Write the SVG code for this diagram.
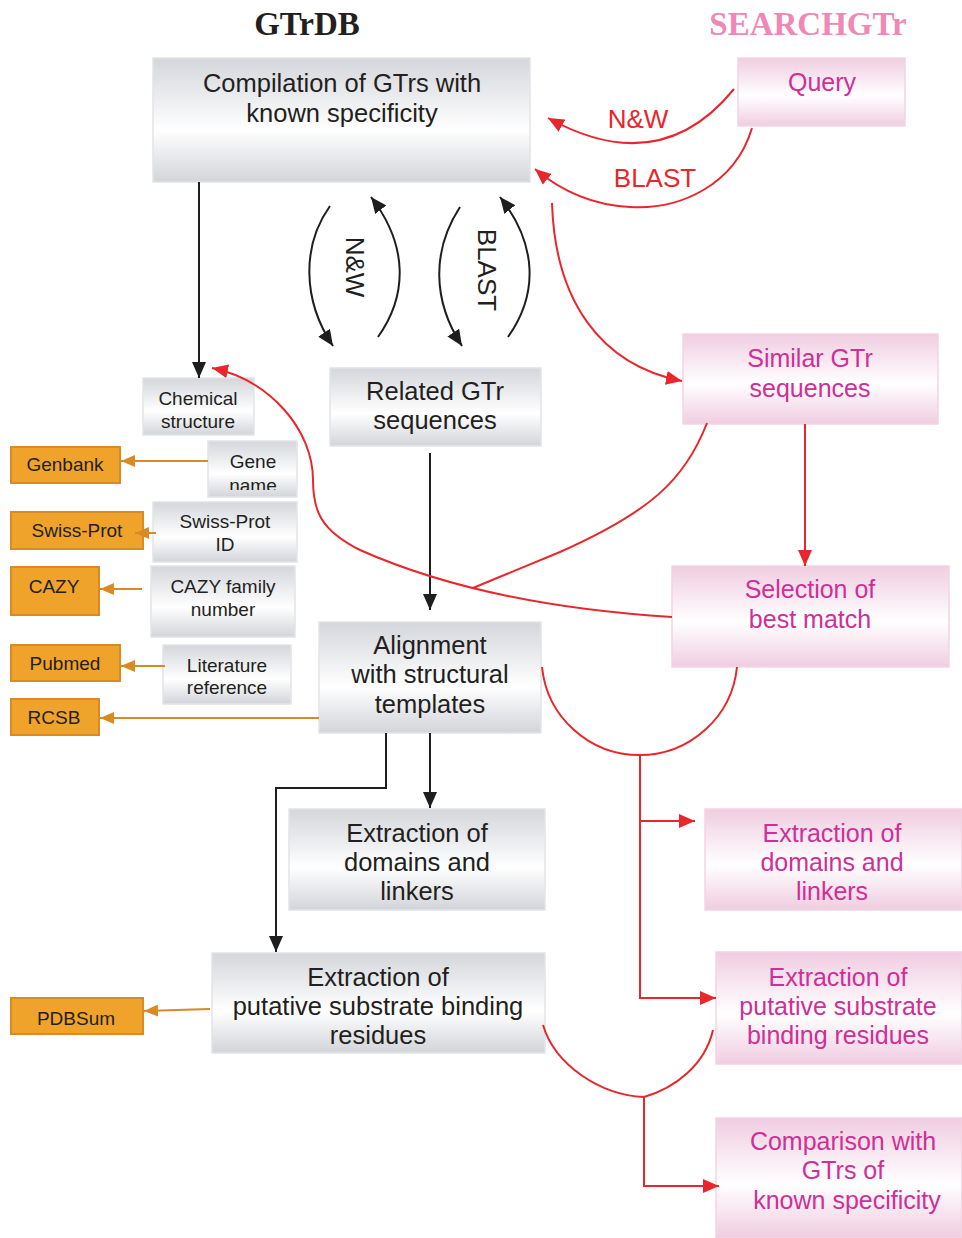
<svg xmlns="http://www.w3.org/2000/svg" width="962" height="1238" viewBox="0 0 962 1238">
<defs>
<linearGradient id="gGray" x1="0" y1="0" x2="0" y2="1">
<stop offset="0" stop-color="#d4d6db"/>
<stop offset="0.58" stop-color="#ffffff"/>
<stop offset="1" stop-color="#d2d4d9"/>
</linearGradient>
<linearGradient id="gPink" x1="0" y1="0" x2="0" y2="1">
<stop offset="0" stop-color="#f0cde0"/>
<stop offset="0.55" stop-color="#ffffff"/>
<stop offset="1" stop-color="#f0cde0"/>
</linearGradient>
<marker id="aBlack" markerUnits="userSpaceOnUse" markerWidth="18" markerHeight="14" refX="16" refY="7" orient="auto">
<path d="M0,0 L16,7 L0,14 z" fill="#1e1e1e"/>
</marker>
<marker id="aRed" markerUnits="userSpaceOnUse" markerWidth="18" markerHeight="14" refX="16" refY="7" orient="auto">
<path d="M0,0 L16,7 L0,14 z" fill="#e8262c"/>
</marker>
<marker id="aOrange" markerUnits="userSpaceOnUse" markerWidth="16" markerHeight="12" refX="14" refY="6" orient="auto">
<path d="M0,0 L14,6 L0,12 z" fill="#d98a22"/>
</marker>
<clipPath id="clipGene"><rect x="208" y="441" width="90" height="49"/></clipPath>
</defs>
<style>
.gbox{fill:url(#gGray);stroke:#e2e4e8;stroke-width:1.5}
.pbox{fill:url(#gPink);stroke:#f3d3e4;stroke-width:1.5}
.obox{fill:#f0a32b;stroke:#d98a22;stroke-width:2}
.t{font-family:"Liberation Sans",Arial,sans-serif;text-anchor:middle;fill:#231f20}
.big{font-size:25.5px}
.sm{font-size:19px}
.pt{font-family:"Liberation Sans",Arial,sans-serif;text-anchor:middle;fill:#cf2f96;font-size:25px}
.rl{font-family:"Liberation Sans",Arial,sans-serif;text-anchor:middle;fill:#e8262c;font-size:26px}
.bl{font-family:"Liberation Sans",Arial,sans-serif;text-anchor:middle;fill:#231f20;font-size:26px}
.title{font-family:"Liberation Serif","Times New Roman",serif;font-weight:bold;font-size:33px;text-anchor:middle}
.kb{fill:none;stroke:#1e1e1e;stroke-width:2}
.kr{fill:none;stroke:#e8262c;stroke-width:2}
.ko{fill:none;stroke:#d98a22;stroke-width:2}
</style>

<text class="title" x="307" y="35" fill="#231f20">GTrDB</text>
<text class="title" x="808" y="35" fill="#ef88b6">SEARCHGTr</text>

<g id="compilation">
<rect class="gbox" x="153" y="58" width="377" height="124"/>
<text class="t big" x="342" y="92">Compilation of GTrs with</text>
<text class="t big" x="342" y="122">known specificity</text>
</g>
<g id="chemical">
<rect class="gbox" x="143" y="378" width="111" height="57"/>
<text class="t sm" x="198" y="405">Chemical</text>
<text class="t sm" x="198" y="428">structure</text>
</g>
<g id="genename">
<rect class="gbox" x="208" y="441" width="89" height="56"/>
<text class="t sm" x="253" y="468">Gene</text>
<text class="t sm" x="253" y="492" clip-path="url(#clipGene)">name</text>
</g>
<g id="swissprotid">
<rect class="gbox" x="153" y="502" width="144" height="60"/>
<text class="t sm" x="225" y="528">Swiss-Prot</text>
<text class="t sm" x="225" y="551">ID</text>
</g>
<g id="cazyfamily">
<rect class="gbox" x="151" y="566" width="144" height="71"/>
<text class="t sm" x="223" y="593">CAZY family</text>
<text class="t sm" x="223" y="616">number</text>
</g>
<g id="literature">
<rect class="gbox" x="163" y="645" width="128" height="59"/>
<text class="t sm" x="227" y="672">Literature</text>
<text class="t sm" x="227" y="694">reference</text>
</g>
<g id="related">
<rect class="gbox" x="330" y="368" width="211" height="78"/>
<text class="t big" x="435" y="400">Related GTr</text>
<text class="t big" x="435" y="429">sequences</text>
</g>
<g id="alignment">
<rect class="gbox" x="319" y="622" width="222" height="111"/>
<text class="t big" x="430" y="654">Alignment</text>
<text class="t big" x="430" y="683">with structural</text>
<text class="t big" x="430" y="713">templates</text>
</g>
<g id="domains-gray">
<rect class="gbox" x="289" y="809" width="256" height="101"/>
<text class="t big" x="417" y="842">Extraction of</text>
<text class="t big" x="417" y="871">domains and</text>
<text class="t big" x="417" y="900">linkers</text>
</g>
<g id="residues-gray">
<rect class="gbox" x="212" y="953" width="333" height="100"/>
<text class="t big" x="378" y="986">Extraction of</text>
<text class="t big" x="378" y="1015">putative substrate binding</text>
<text class="t big" x="378" y="1044">residues</text>
</g>

<g id="genbank">
<rect class="obox" x="11" y="447" width="109" height="36"/>
<text class="t sm" x="65" y="471">Genbank</text>
</g>
<g id="swissprot">
<rect class="obox" x="11" y="512" width="132" height="37"/>
<text class="t sm" x="77" y="537">Swiss-Prot</text>
</g>
<g id="cazy">
<rect class="obox" x="11" y="567" width="88" height="48"/>
<text class="t sm" x="54" y="593">CAZY</text>
</g>
<g id="pubmed">
<rect class="obox" x="11" y="645" width="109" height="36"/>
<text class="t sm" x="65" y="670">Pubmed</text>
</g>
<g id="rcsb">
<rect class="obox" x="11" y="699" width="88" height="36"/>
<text class="t sm" x="54" y="724">RCSB</text>
</g>
<g id="pdbsum">
<rect class="obox" x="11" y="998" width="132" height="36"/>
<text class="t sm" x="76" y="1025">PDBSum</text>
</g>

<g id="query">
<rect class="pbox" x="738" y="58" width="167" height="68"/>
<text class="pt" x="822" y="91">Query</text>
</g>
<g id="similar">
<rect class="pbox" x="683" y="334" width="255" height="90"/>
<text class="pt" x="810" y="367">Similar GTr</text>
<text class="pt" x="810" y="397">sequences</text>
</g>
<g id="selection">
<rect class="pbox" x="672" y="566" width="277" height="101"/>
<text class="pt" x="810" y="598">Selection of</text>
<text class="pt" x="810" y="628">best match</text>
</g>
<g id="domains-pink">
<rect class="pbox" x="705" y="809" width="257" height="101"/>
<text class="pt" x="832" y="842">Extraction of</text>
<text class="pt" x="832" y="871">domains and</text>
<text class="pt" x="832" y="900">linkers</text>
</g>
<g id="residues-pink">
<rect class="pbox" x="716" y="952" width="246" height="112"/>
<text class="pt" x="838" y="986">Extraction of</text>
<text class="pt" x="838" y="1015">putative substrate</text>
<text class="pt" x="838" y="1044">binding residues</text>
</g>
<g id="comparison">
<rect class="pbox" x="716" y="1118" width="246" height="120"/>
<text class="pt" x="843" y="1150">Comparison with</text>
<text class="pt" x="843" y="1179">GTrs of</text>
<text class="pt" x="847" y="1209">known specificity</text>
</g>

<g id="connectors">
<path class="kb" d="M199,182 L199,378" marker-end="url(#aBlack)"/>
<path class="kb" d="M430,453 L430,610" marker-end="url(#aBlack)"/>
<path class="kb" d="M430,733 L430,808" marker-end="url(#aBlack)"/>
<path class="kb" d="M386,733 L386,788 L276,788 L276,952" marker-end="url(#aBlack)"/>
<path class="kb" d="M330,206 C302,245 302,300 333,346" marker-end="url(#aBlack)"/>
<path class="kb" d="M378,337 C408,295 408,245 371,197" marker-end="url(#aBlack)"/>
<path class="kb" d="M460,207 C432,250 432,300 462,346" marker-end="url(#aBlack)"/>
<path class="kb" d="M508,337 C538,295 538,245 500,197" marker-end="url(#aBlack)"/>
<text class="bl" transform="translate(346,267) rotate(90)">N&amp;W</text>
<text class="bl" transform="translate(478,270) rotate(90)">BLAST</text>

<path class="ko" d="M208,461 L121,461" marker-end="url(#aOrange)"/>
<path class="ko" d="M156,533 L135,533" marker-end="url(#aOrange)"/>
<path class="ko" d="M142,589 L100,589" marker-end="url(#aOrange)"/>
<path class="ko" d="M165,666 L121,666" marker-end="url(#aOrange)"/>
<path class="ko" d="M319,718 L100,718" marker-end="url(#aOrange)"/>
<path class="ko" d="M210,1009 L144,1011" marker-end="url(#aOrange)"/>

<path class="kr" d="M734,89 Q660,180 548,118" marker-end="url(#aRed)"/>
<text class="rl" x="638" y="128">N&amp;W</text>
<path class="kr" d="M752,128 C735,185 680,210 630,207 C590,205 560,190 535,169" marker-end="url(#aRed)"/>
<text class="rl" x="655" y="187">BLAST</text>
<path class="kr" d="M552,203 C555,300 600,365 682,381" marker-end="url(#aRed)"/>
<path class="kr" d="M805,424 L805,566" marker-end="url(#aRed)"/>
<path class="kr" d="M707,423 C685,480 650,512 560,552 L473,588"/>
<path class="kr" d="M672,617 C560,610 450,590 360,550 C320,530 313,510 313,480 C313,430 270,380 212,368" marker-end="url(#aRed)"/>
<path class="kr" d="M542,667 A98,98 0 0 0 737,667"/>
<path class="kr" d="M640,755 L640,998 L716,998" marker-end="url(#aRed)"/>
<path class="kr" d="M640,821 L695,821" marker-end="url(#aRed)"/>
<path class="kr" d="M543,1025 C555,1065 600,1095 644,1097 C675,1088 705,1065 713,1030"/>
<path class="kr" d="M644,1097 L644,1186 L719,1186" marker-end="url(#aRed)"/>
</g>
</svg>
